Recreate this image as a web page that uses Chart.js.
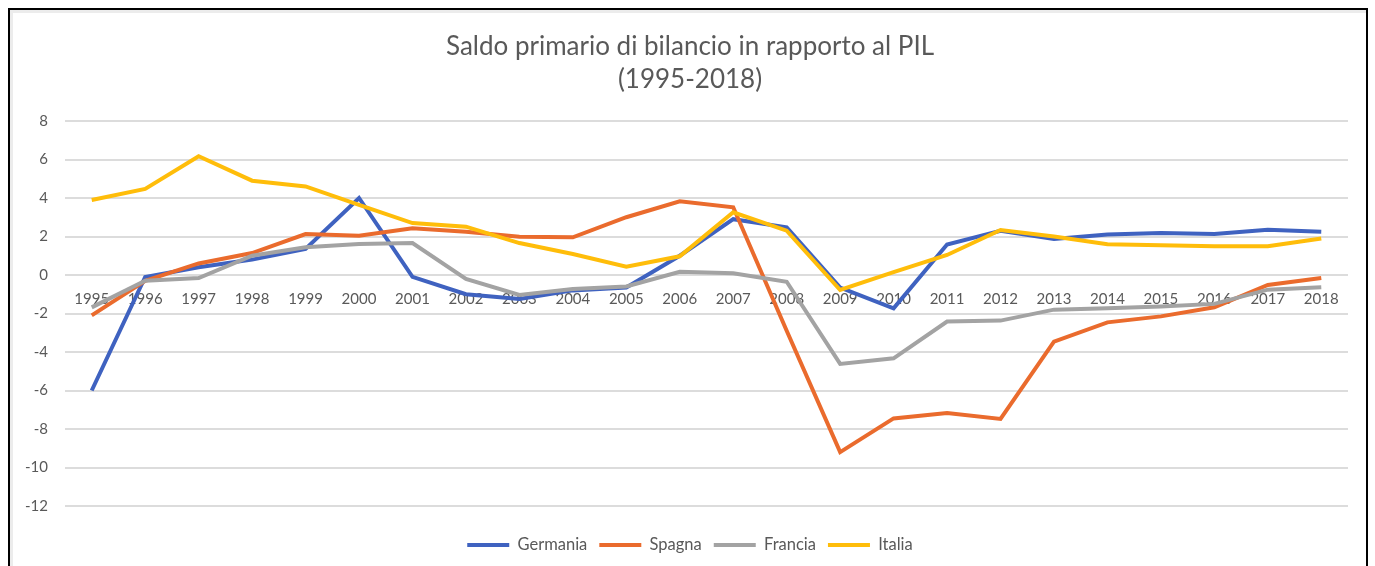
<!DOCTYPE html>
<html lang="it">
<head>
<meta charset="utf-8">
<title>Saldo primario di bilancio in rapporto al PIL</title>
<script src="https://cdn.jsdelivr.net/npm/chart.js@4/dist/chart.umd.min.js"></script>
<style>
  html, body { margin: 0; padding: 0; background: #fff; overflow: hidden; }
  #wrap { position: relative; width: 1375px; height: 566px; }
  #grafico { position: absolute; left: 0; top: 0; }
  /* cornice nera come nello screenshot */
  #cornice {
    position: absolute; left: 8px; top: 8px; width: 1356px; height: 600px;
    border: 2px solid #000; pointer-events: none;
  }
  #cornice-interna {
    position: absolute; left: 0; top: 0; right: 0; bottom: 0;
    border-top: 3px solid #ececec; border-left: 3px solid #ececec;
  }
</style>
</head>
<body>
<div id="wrap">
  <canvas id="grafico" width="1375" height="566"></canvas>
  <div id="cornice"><div id="cornice-interna"></div></div>
</div>
<script>
// Dati
const anni = ['1995', '1996', '1997', '1998', '1999', '2000', '2001', '2002', '2003', '2004', '2005', '2006',
  '2007', '2008', '2009', '2010', '2011', '2012', '2013', '2014', '2015', '2016', '2017', '2018'];

const germania = [-6.0, -0.1, 0.4, 0.8, 1.35, 4.0, -0.1, -1.0, -1.25, -0.8, -0.65, 1.0,
  2.9, 2.48, -0.65, -1.73, 1.58, 2.3, 1.87, 2.1, 2.18, 2.13, 2.35, 2.25];
const spagna = [-2.1, -0.3, 0.6, 1.14, 2.13, 2.04, 2.43, 2.25, 1.99, 1.96, 3.0, 3.83,
  3.52, -2.9, -9.2, -7.45, -7.17, -7.48, -3.46, -2.46, -2.15, -1.68, -0.52, -0.16];
const francia = [-1.68, -0.3, -0.16, 1.0, 1.44, 1.61, 1.66, -0.2, -1.04, -0.73, -0.6, 0.17,
  0.09, -0.35, -4.62, -4.33, -2.42, -2.37, -1.8, -1.73, -1.63, -1.5, -0.76, -0.64];
const italia = [3.9, 4.47, 6.17, 4.9, 4.6, 3.64, 2.7, 2.51, 1.66, 1.09, 0.43, 0.97,
  3.26, 2.3, -0.78, 0.15, 1.04, 2.34, 2.0, 1.6, 1.55, 1.49, 1.49, 1.9];

const titolo = ['Saldo primario di bilancio in rapporto al PIL', '(1995-2018)'];

// Colori in stile Excel
const colori = {
  germania: '#3F62C0',
  spagna: '#EA6B2D',
  francia: '#A3A3A3',
  italia: '#FFBD0A'
};
const grigioTesto = '#595959';
const famiglia = 'Lato, "Open Sans", sans-serif';

/**
 * Crea un dataset di linea
 */
const serie = (label, data, colore, ordine) => ({
  label: label,
  data: data,
  xAxisID: 'x',
  yAxisID: 'y',
  borderColor: colore,
  backgroundColor: colore,
  borderWidth: 4,
  pointRadius: 0,
  pointHoverRadius: 0,
  tension: 0,
  fill: false,
  order: ordine // Italia sopra a tutte, come in Excel
});

const ctx = document.getElementById('grafico').getContext('2d');

new Chart(ctx, {
  type: 'line',
  data: {
    labels: anni,
    datasets: [
      serie('Germania', germania, colori.germania, 3),
      serie('Spagna', spagna, colori.spagna, 2),
      serie('Francia', francia, colori.francia, 1),
      serie('Italia', italia, colori.italia, 0)
    ]
  },
  options: {
    responsive: false,
    animation: false,
    layout: {
      padding: { left: 10, right: 5, top: 0, bottom: 2.75 }
    },
    plugins: {
      title: {
        display: true,
        text: titolo,
        color: grigioTesto,
        font: { family: famiglia, size: 26, weight: 'normal', lineHeight: 33 / 26 },
        padding: { top: 30.5, bottom: 24.5 }
      },
      legend: {
        display: true,
        position: 'bottom',
        labels: {
          boxWidth: 42,
          boxHeight: 4,
          padding: 12,
          color: grigioTesto,
          font: { family: famiglia, size: 16.5 },
          sort: (a, b) => a.datasetIndex - b.datasetIndex,
          generateLabels: (chart) => {
            const base = Chart.defaults.plugins.legend.labels.generateLabels(chart);
            return base.map(item => ({ ...item, lineWidth: 0, fillStyle: item.strokeStyle }));
          }
        }
      },
      tooltip: { enabled: false }
    },
    scales: {
      x: {
        type: 'category',
        offset: true,
        position: { y: 0 },
        grid: { display: false },
        border: { display: false },
        ticks: {
          color: grigioTesto,
          font: { family: famiglia, size: 15 },
          padding: 7,
          maxRotation: 0,
          autoSkip: false
        }
      },
      // asse vuoto in basso: lascia solo lo spazio tra grafico e legenda
      spazio: {
        type: 'category',
        labels: anni,
        position: 'bottom',
        grid: { display: false },
        border: { display: false },
        ticks: { display: false },
        afterFit: (scale) => { scale.height = 18.75; }
      },
      // asse vuoto a destra: margine destro dell'area del grafico
      margine: {
        type: 'linear',
        position: 'right',
        grid: { display: false },
        border: { display: false },
        ticks: { display: false },
        afterFit: (scale) => { scale.width = 22; }
      },
      y: {
        min: -12,
        max: 8,
        ticks: {
          stepSize: 2,
          color: grigioTesto,
          font: { family: famiglia, size: 15 },
          padding: 17
        },
        grid: {
          color: '#dcdcdc',
          lineWidth: 2,
          drawTicks: false
        },
        border: { display: false },
        afterFit: (scale) => { scale.width = 55; }
      }
    }
  }
});
</script>
</body>
</html>
